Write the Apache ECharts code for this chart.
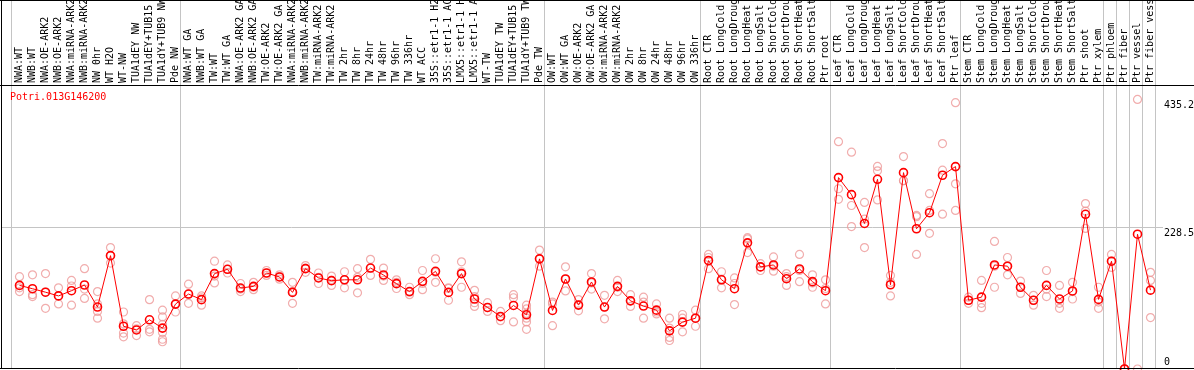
<!DOCTYPE html>
<html>
<head>
<meta charset="utf-8">
<script src="https://cdn.jsdelivr.net/npm/echarts@6/dist/echarts.min.js"></script>
<style>
html,body{margin:0;padding:0;background:#fff;}
#c{width:1194px;height:370px;}
</style>
</head>
<body>
<div id="c"></div>
<script>
const title = 'Potri.013G146200';
const categories = [
 'NWA:WT','NWB:WT','NWA:OE-ARK2','NWB:OE-ARK2','NWA:miRNA-ARK2','NWB:miRNA-ARK2','NW 0hr','WT H2O','WT-NW','TUA1dEY NW','TUA1dEY+TUB15 NW','TUA1dY+TUB9 NW','Pde NW',
 'NWA:WT GA','NWB:WT GA','TW:WT','TW:WT GA','NWA:OE-ARK2 GA','NWB:OE-ARK2 GA','TW:OE-ARK2','TW:OE-ARK2 GA','NWA:miRNA-ARK2 GA','NWB:miRNA-ARK2 GA','TW:miRNA-ARK2','TW:miRNA-ARK2 GA','TW 2hr','TW 8hr','TW 24hr','TW 48hr','TW 96hr','TW 336hr','WT ACC','35S::etr1-1 H2O','35S::etr1-1 ACC','LMX5::etr1-1 H2O','LMX5::etr1-1 ACC','WT-TW','TUA1dEY TW','TUA1dEY+TUB15 TW','TUA1dY+TUB9 TW','Pde TW',
 'OW:WT','OW:WT GA','OW:OE-ARK2','OW:OE-ARK2 GA','OW:miRNA-ARK2','OW:miRNA-ARK2 GA','OW 2hr','OW 8hr','OW 24hr','OW 48hr','OW 96hr','OW 336hr',
 'Root CTR','Root LongCold','Root LongDrought','Root LongHeat','Root LongSalt','Root ShortCold','Root ShortDrought','Root ShortHeat','Root ShortSalt','Ptr root',
 'Leaf CTR','Leaf LongCold','Leaf LongDrought','Leaf LongHeat','Leaf LongSalt','Leaf ShortCold','Leaf ShortDrought','Leaf ShortHeat','Leaf ShortSalt','Ptr leaf',
 'Stem CTR','Stem LongCold','Stem LongDrought','Stem LongHeat','Stem LongSalt','Stem ShortCold','Stem ShortDrought','Stem ShortHeat','Stem ShortSalt','Ptr shoot',
 'Ptr xylem','Ptr phloem','Ptr fiber','Ptr vessel','Ptr fiber vessel'
];
const means = [
 135,129.6,124,118,126.4,135.6,100,183,69,63,79.4,66,104.8,
 121,112,154,161,130.7,133.4,155,148.6,123.7,162,147,142.6,144,144,163,151.8,137.8,125,141.5,157.7,123.7,154,113,99.4,84.8,102.6,87.5,177.8,
 94.5,145.3,103.2,140.5,100,133.4,110,101.6,95,61.6,75.7,82,
 175,144,129.6,203.7,164.8,168,145.8,161.5,141,126.4,
 309,281.5,235,306.3,136,317,226.4,252.3,312.8,326.8,
 111,116,168,166,132,111,135,113,126,249.8,
 112.4,174,0,217.6,127.3
];
const replicates = [
 [149,131,125],[152,120,117],[154,124,98],[131,118,105],[143,134,103],[162,129,114],[125,105,93,82],[196,183,171],[92,73,58,52],[70,65,54],[112,64,60],[95,84,72,59,48,44],[118,105,92],
 [137,121,106],[118,115,103],[174,150,139],[168,161,155],[138,129,125],[140,132,128],[159,155,151],[152,149,145],[140,125,106],[167,163,156],[155,148,138],[150,143,135],[157,144,131],[162,148,123],[177,163,151],[163,150,143],[144,140,130],[132,124,120],[159,138,128],[178,156,140],[131,130,111],[173,157,132],[127,117,107,101],[107,99,93],[93,84,78],[120,115,76],[103,97,90,82,76,64],[192,178,166],
 [108,105,70],[165,145,126],[112,104,94],[154,139,129],[119,100,81],[143,132,125],[120,110,101],[116,108,82],[105,92,89],[82,66,51,46],[88,82,60],[95,82,69],
 [185,180,162],[157,145,131],[147,138,104],[212,210,188],[170,165,159],[181,166,158],[154,149,135],[185,159,141],[152,139,132],[144,130,105],
 [367,291,274],[350,264,230],[269,242,196],[327,320,273],[151,140,118],[343,304,304],[248,246,185],[283,256,219],[364,321,250],[430,299,256],
 [116,111,106],[143,106,99],[206,166,132],[180,166,152],[142,132,122],[119,111,103],[159,129,117],[135,106,98],[140,125,113],[267,255,227],
 [132,108,98],[185,174,164],[0,0,0],[435.2,0],[156,143,83]
];
const groupStarts = [0,13,41,53,63,73,84,85,86,87,88];
const yTicks = [0, 228.5, 435.2];
const refLine = 228.5;

const FONT = '"DejaVu Sans Mono", "Liberation Mono", monospace';
const repPoints = [];
replicates.forEach((arr, i) => arr.forEach(v => repPoints.push([i, v])));
const sepData = groupStarts.map(g => [g - 0.65, 0]);

const chart = echarts.init(document.getElementById('c'), null, {renderer: 'canvas'});
const option = {
  animation: false,
  backgroundColor: '#ffffff',
  grid: {left: 13, width: 1144, top: 85, bottom: 1, containLabel: false, outerBoundsMode: 'none'},
  xAxis: [
    {
      type: 'category', position: 'top', data: categories, boundaryGap: true,
      axisLine: {show: false}, axisTick: {show: false}, splitLine: {show: false},
      axisLabel: {interval: 0, rotate: 90, margin: 2, color: '#000', fontFamily: FONT, fontSize: 10}
    },
    {type: 'value', min: -0.5, max: 87.5, show: false}
  ],
  yAxis: [{type: 'value', min: 0, max: 458.5, show: false}],
  series: [
    {
      type: 'custom', xAxisIndex: 1, yAxisIndex: 0, data: sepData, clip: false, silent: true, z: 1,
      renderItem: function (params, api) {
        const p = api.coord([api.value(0), 0]);
        const x = Math.round(p[0]) + 0.5;
        return {type: 'line', shape: {x1: x, y1: 0, x2: x, y2: p[1]}, style: {stroke: '#c4c4c4', lineWidth: 1}};
      }
    },
    {
      type: 'custom', xAxisIndex: 1, yAxisIndex: 0, data: [[0, refLine]], clip: false, silent: true, z: 1,
      renderItem: function (params, api) {
        const p = api.coord([0, api.value(1)]);
        const y = Math.round(p[1]) + 0.5;
        const cs = params.coordSys;
        return {type: 'line', shape: {x1: 1, y1: y, x2: cs.x + cs.width + 6, y2: y}, style: {stroke: '#c4c4c4', lineWidth: 1}};
      }
    },
    {
      type: 'scatter', xAxisIndex: 0, yAxisIndex: 0, data: repPoints, clip: false, z: 2,
      symbol: 'circle', symbolSize: 8,
      itemStyle: {color: 'rgba(0,0,0,0)', borderColor: '#ee9999', borderWidth: 1.2}
    },
    {
      type: 'line', xAxisIndex: 0, yAxisIndex: 0, data: means, z: 3,
      symbol: 'circle', symbolSize: 8, showAllSymbol: true,
      lineStyle: {color: '#ff0000', width: 1},
      itemStyle: {color: 'rgba(0,0,0,0)', borderColor: '#ff0000', borderWidth: 1.6}
    }
  ]
};
chart.setOption(option);

// frame, title and value labels placed through the chart's own scales
const els = [];
const yTop = chart.convertToPixel({yAxisIndex: 0}, 458.5);
const yBot = chart.convertToPixel({yAxisIndex: 0}, 0);
els.push({type: 'line', shape: {x1: 0, y1: 0.5, x2: 1194, y2: 0.5}, style: {stroke: '#000', lineWidth: 1}, z: 10});
els.push({type: 'line', shape: {x1: 1.5, y1: 0, x2: 1.5, y2: yBot}, style: {stroke: '#000', lineWidth: 1}, z: 10});
els.push({type: 'line', shape: {x1: 0, y1: Math.round(yTop) + 0.5, x2: 1194, y2: Math.round(yTop) + 0.5}, style: {stroke: '#000', lineWidth: 1}, z: 10});
els.push({type: 'line', shape: {x1: 0, y1: Math.round(yBot) - 0.5, x2: 1194, y2: Math.round(yBot) - 0.5}, style: {stroke: '#000', lineWidth: 1}, z: 10});
els.push({type: 'text', x: 10, y: yTop + 12, style: {text: title, fill: '#ff0000', font: '10px ' + FONT, textVerticalAlign: 'middle'}, z: 10});
yTicks.forEach(v => {
  const y = chart.convertToPixel({yAxisIndex: 0}, v);
  const isZero = v === 0;
  els.push({type: 'text', x: 1164, y: isZero ? y - 2 : y + 1,
    style: {text: String(v), fill: '#000', font: '10px ' + FONT, textVerticalAlign: isZero ? 'bottom' : 'top'}, z: 10});
});
chart.setOption({graphic: {elements: els}});
</script>
</body>
</html>
